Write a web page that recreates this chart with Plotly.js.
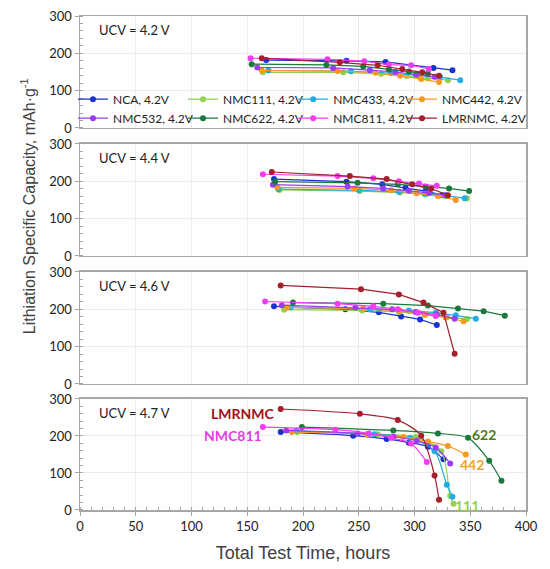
<!DOCTYPE html>
<html><head><meta charset="utf-8">
<script src="https://cdn.plot.ly/plotly-3.0.1.min.js"></script>
<style>html,body{margin:0;padding:0;background:#fff}#chart{width:550px;height:569px}</style>
</head><body><div id="chart"></div>
<script>
// Series (same order in every panel)
const names = ['NCA','NMC111','NMC433','NMC442','NMC532','NMC622','NMC811','LMRNMC'];
const colors = ['#1a33cc','#92d050','#22ade6','#f7981d','#9b3cf0','#1a7a3c','#f23cf2','#a3202c'];
const legendIds = ['legend','legend2','legend3','legend4','legend','legend2','legend3','legend4'];
const panelLabels = ['UCV = 4.2 V','UCV = 4.4 V','UCV = 4.6 V','UCV = 4.7 V'];
const xTicks = [0,50,100,150,200,250,300,350,400];
const yTicks = [0,100,200,300];

// UCV = 4.2 V : time (h) and capacity (mAh/g)
const t42 = [
  [167,239,274,317,334],
  [164,236,270,293,312,330],
  [169,243,279,301,323,341],
  [163,231,265,287,306,322],
  [159,227,260,283,302,318],
  [154,221,254,277,295,312],
  [153,222,255,277,297,313],
  [163,233,267,289,307,322]
];
const c42 = [
  [182,180,177,161,155],
  [149,149,145,139,133,128],
  [154,152,147,142,136,128],
  [154,153,148,140,131,123],
  [162,161,155,150,143,137],
  [171,169,165,157,151,145],
  [187,184,179,170,168,158],
  [187,176,168,158,149,140]
];
// UCV = 4.4 V
const t44 = [
  [174,239,271,292,310,325],
  [179,251,287,310,329,347],
  [178,250,286,309,327,345],
  [177,246,279,302,321,337],
  [173,240,272,295,313,328],
  [175,249,285,310,331,349],
  [164,231,263,286,304,320],
  [172,242,275,298,315,330]
];
const c44 = [
  [206,199,192,183,174,163],
  [177,174,170,165,160,154],
  [179,176,172,167,162,155],
  [184,181,176,168,161,150],
  [191,186,181,175,169,163],
  [199,196,192,186,181,174],
  [219,214,208,200,194,188],
  [225,214,206,192,180,163]
];
// UCV = 4.6 V
const t46 = [
  [174,238,268,288,305,320],
  [183,253,286,309,329,347],
  [189,260,295,319,337,355],
  [186,254,287,310,328,344],
  [181,247,280,301,320,336],
  [191,272,312,339,362,381],
  [166,231,263,285,303,319],
  [180,252,286,308,326,336]
];
const c46 = [
  [208,200,192,181,173,158],
  [199,197,193,185,179,174],
  [205,200,197,191,184,175],
  [205,202,196,187,178,168],
  [211,205,200,193,186,175],
  [218,215,210,202,195,183],
  [221,215,208,200,191,182],
  [264,254,240,218,191,81]
];
// UCV = 4.7 V
const t47 = [
  [180,245,275,295,312,326],
  [195,267,301,324,332,335],
  [194,264,296,318,329,334],
  [190,257,290,312,330,346],
  [185,249,281,302,319,332],
  [199,281,321,348,367,378],
  [164,229,259,279,297,311],
  [180,251,285,306,318,322]
];
const c47 = [
  [211,201,192,182,171,137],
  [211,205,197,159,38,17],
  [214,205,195,159,68,36],
  [211,205,197,185,173,150],
  [215,207,198,187,169,126],
  [224,215,207,195,133,79],
  [224,217,207,195,180,130],
  [273,260,243,201,93,28]
];
// Callout labels in the 4.7 V panel
const calloutText = ['LMRNMC','NMC811','622','442','111'];
const calloutX = [146,137,362,352,347];
const calloutY = [262,201,205,124,12];
const calloutColor = ['#a0101c','#e63ce6','#4e7a25','#f0a030','#92d050'];

const times = [t42,t44,t46,t47];
const caps = [c42,c44,c46,c47];

const traces = [];
for (let p = 0; p < 4; p++) {
  for (let s = 0; s < names.length; s++) {
    traces.push({
      type: 'scatter', mode: 'lines+markers',
      x: times[p][s], y: caps[p][s],
      xaxis: 'x' + (p+1), yaxis: 'y' + (p+1),
      name: names[s] + ', 4.2V',
      legend: legendIds[s],
      showlegend: p === 0,
      line: {color: colors[s], width: 1.2, shape: p === 3 ? 'spline' : 'linear', smoothing: 0.8},
      marker: {color: colors[s], size: 6}
    });
  }
}

const domains = [[0.7733,1],[0.5142,0.7409],[0.2551,0.4818],[0,0.2247]];
const axColor = '#a6a6a6';
const layout = {
  width: 550, height: 569,
  margin: {l: 80, r: 24, t: 16, b: 59},
  paper_bgcolor: '#fff', plot_bgcolor: '#fff',
  font: {family: 'Lato, "Open Sans", sans-serif', size: 13, color: '#222'},
  annotations: []
};
for (let p = 0; p < 4; p++) {
  const sfx = p === 0 ? '' : String(p+1);
  const bottom = p === 3;
  const xa = {
    domain: [0,1], anchor: 'y' + (p+1), range: [0,400],
    tickvals: xTicks, showticklabels: bottom,
    ticks: bottom ? 'outside' : '', ticklen: 4, tickcolor: axColor,
    showline: true, linecolor: axColor, linewidth: 1.5, mirror: true,
    showgrid: true, gridcolor: '#ececec', zeroline: false,
    tickfont: {size: 13, color: '#222'}
  };
  if (bottom) {
    xa.minor = {dtick: 10, tick0: 0, ticks: 'inside', ticklen: 3, tickcolor: axColor, showgrid: false};
    xa.title = {text: 'Total Test Time, hours', standoff: 13,
      font: {family: '"Liberation Sans", Arial, sans-serif', size: 18, color: '#404040'}};
  }
  layout['xaxis' + sfx] = xa;
  layout['yaxis' + sfx] = {
    domain: domains[p], anchor: 'x' + (p+1), range: [0,300],
    tickvals: yTicks, ticks: 'outside', ticklen: 4, tickcolor: axColor,
    minor: {dtick: 20, tick0: 0, ticks: 'inside', ticklen: 3, tickcolor: axColor, showgrid: false},
    showline: true, linecolor: axColor, linewidth: 1.5, mirror: true,
    showgrid: true, gridcolor: '#ececec', zeroline: false,
    tickfont: {size: 13, color: '#222'}
  };
  layout.annotations.push({
    xref: 'x' + (p+1), yref: 'y' + (p+1), x: 15, y: 262,
    xanchor: 'left', yanchor: 'middle', showarrow: false,
    text: panelLabels[p], font: {size: 13, color: '#222'}
  });
}
for (let i = 0; i < calloutText.length; i++) {
  layout.annotations.push({
    xref: 'x4', yref: 'y4', x: calloutX[i], y: calloutY[i],
    xanchor: 'center', yanchor: 'middle', showarrow: false,
    text: '<b>' + calloutText[i] + '</b>', font: {size: 14, color: calloutColor[i]}
  });
}
layout.annotations.push({
  xref: 'paper', yref: 'paper', x: -0.1166, y: 0.615,
  xanchor: 'center', yanchor: 'middle', textangle: -90, showarrow: false,
  text: 'Lithiation Specific Capacity, mAh·g<sup>-1</sup>',
  font: {family: '"Liberation Sans", Arial, sans-serif', size: 16, color: '#404040'}
});
const legX = [-0.0157, 0.231, 0.478, 0.722];
['legend','legend2','legend3','legend4'].forEach((id, i) => {
  layout[id] = {
    x: legX[i], y: 0.861, xanchor: 'left', yanchor: 'top',
    xref: 'paper', yref: 'paper',
    bgcolor: 'rgba(0,0,0,0)', borderwidth: 0, tracegroupgap: 0,
    font: {size: 12, color: '#222'}, itemwidth: 30
  };
});

Plotly.newPlot('chart', traces, layout, {displayModeBar: false, staticPlot: true});
</script>
</body></html>
